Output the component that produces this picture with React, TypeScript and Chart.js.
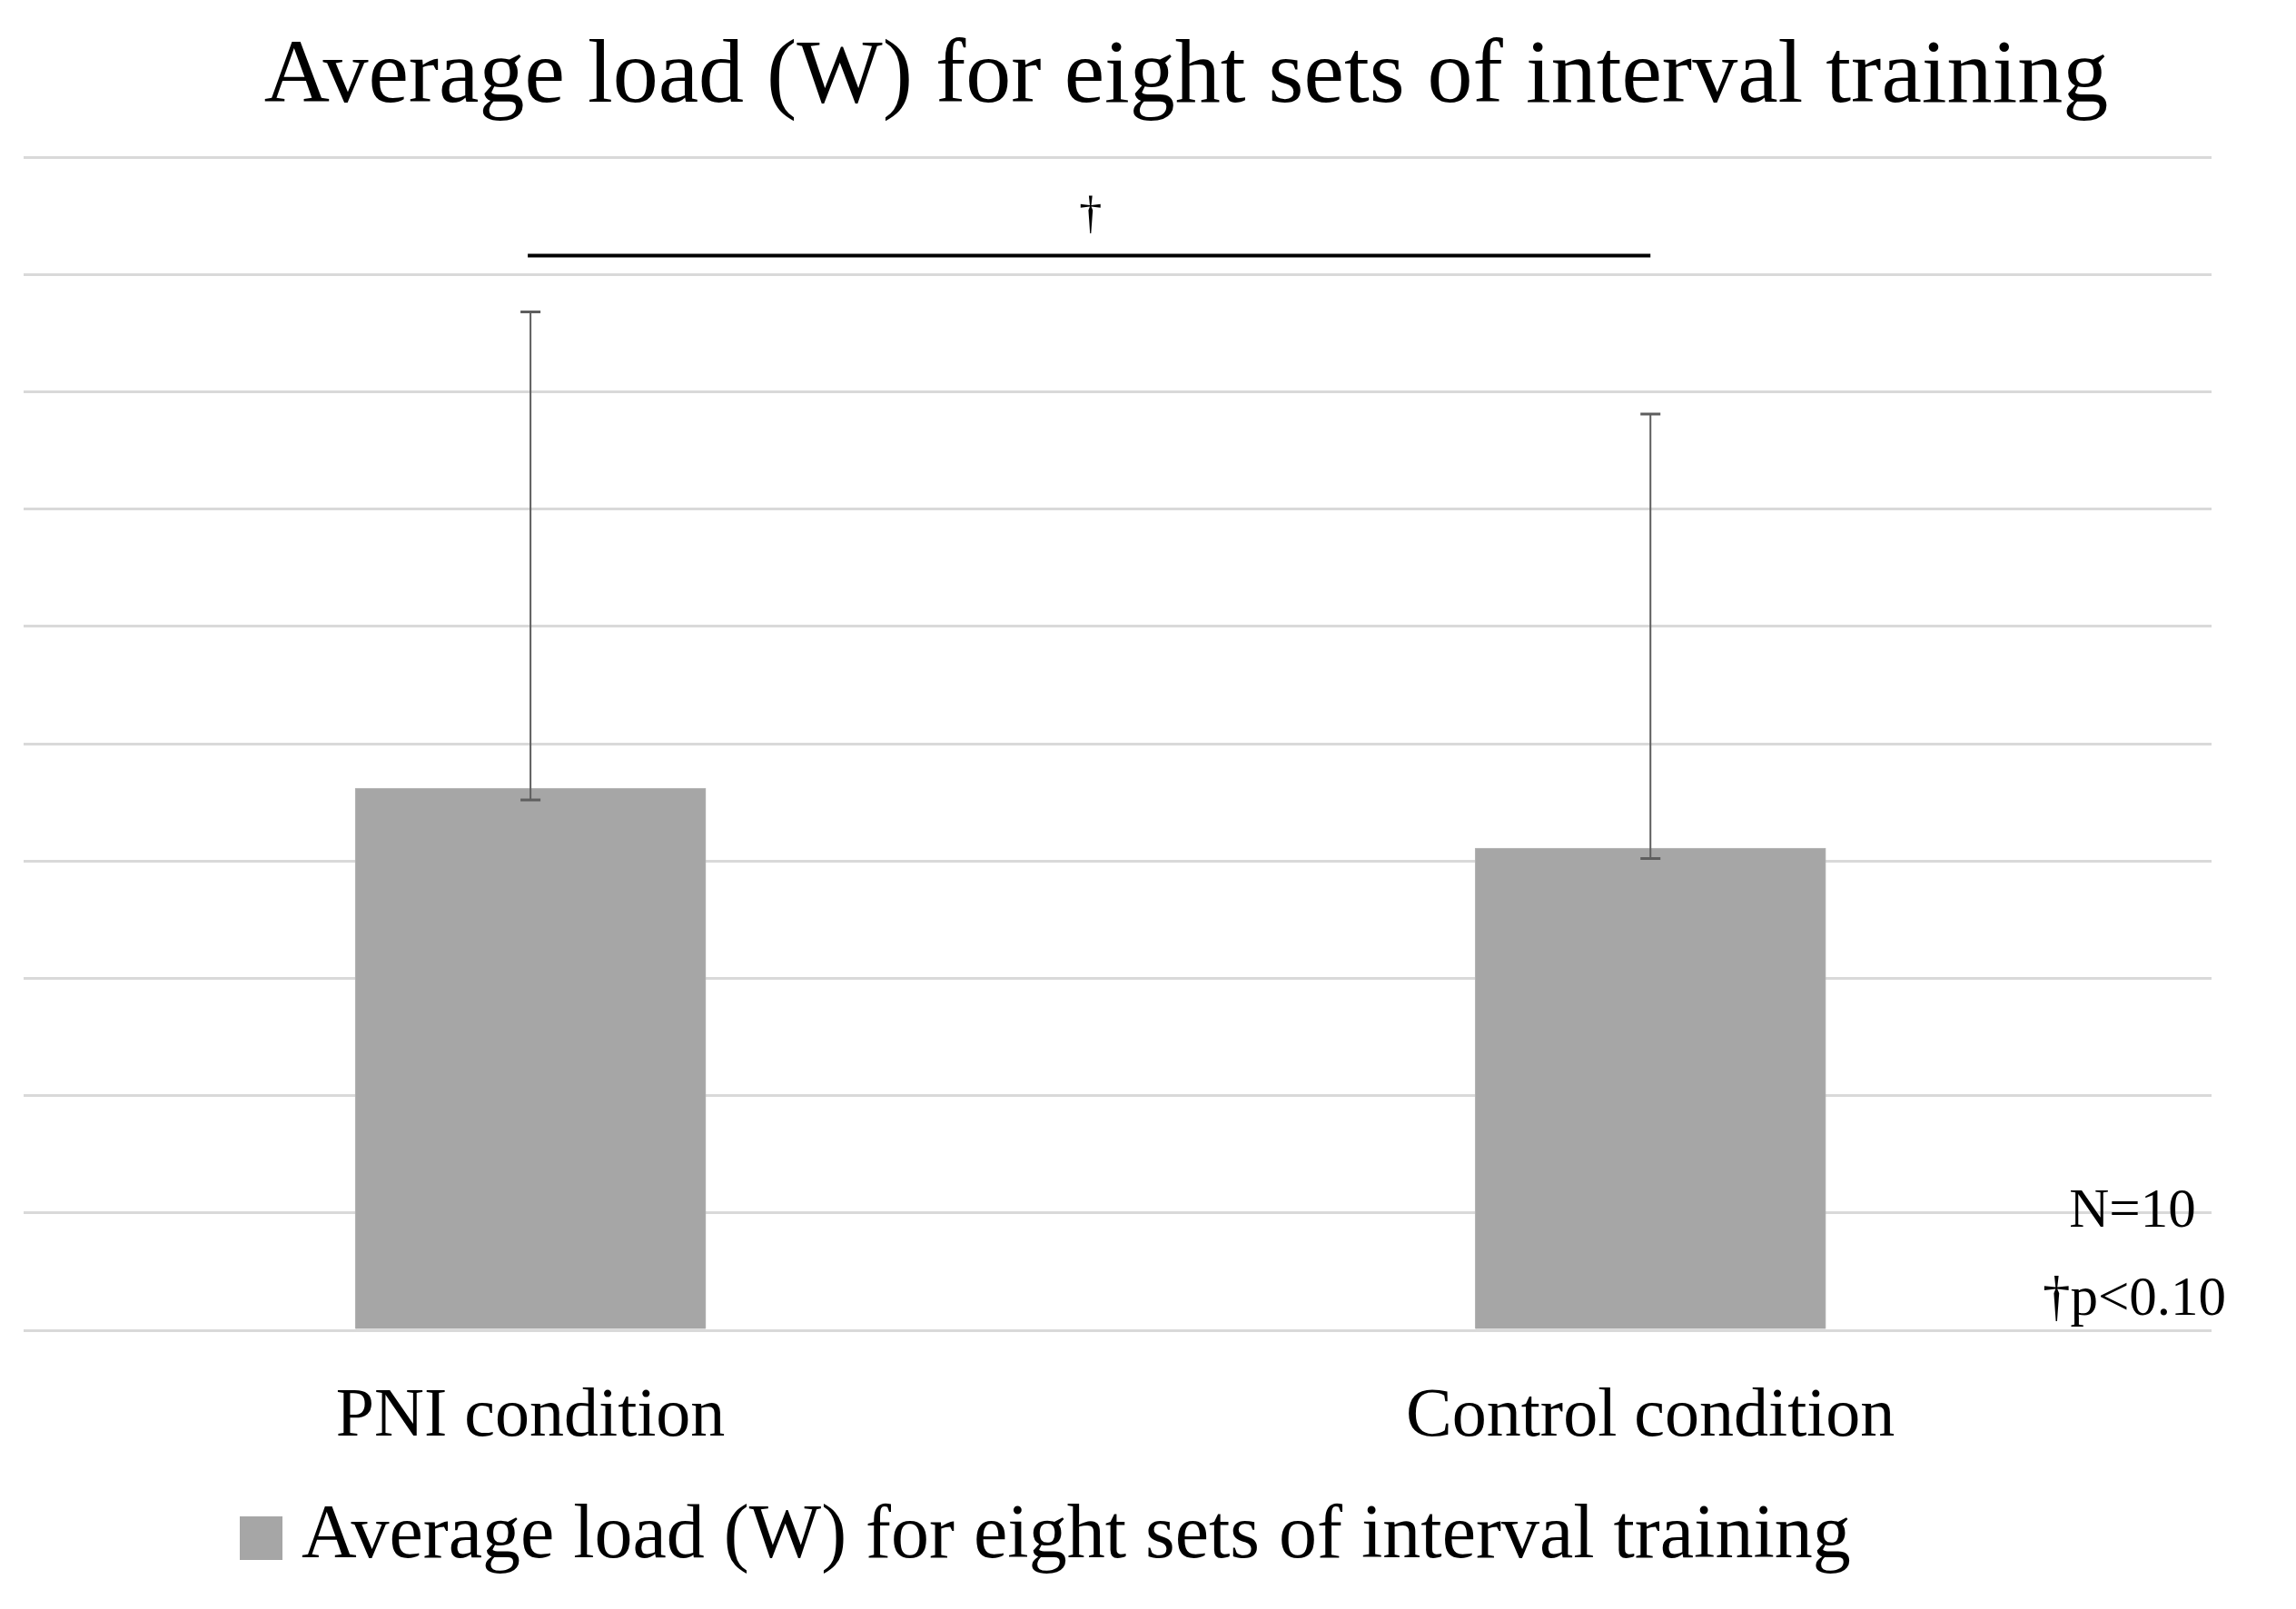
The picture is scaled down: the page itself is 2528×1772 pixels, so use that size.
import { useEffect, useRef } from 'react'
import { Chart, registerables } from 'chart.js'

Chart.register(...registerables)

// values, in gridline steps (axis has 10 unlabelled steps)
const categories = ['PNI condition', 'Control condition']
const barValues = [4.62, 4.11]
const errorLow = [4.52, 4.02]
const errorHigh = [8.68, 7.81]
const bracketLevel = 9.16
const seriesLabel = 'Average load (W) for eight sets of interval training'
const notes = ['N=10', '\u2020p<0.10']

const FONT = '"Liberation Serif", "Times New Roman", serif'
const BAR_COLOR = '#a6a6a6'

const annotations = {
  id: 'annotations',
  afterDatasetsDraw(chart: Chart) {
    const { ctx } = chart
    const x = chart.scales.x
    const y = chart.scales.y
    ctx.save()

    // error bars
    ctx.strokeStyle = '#5e5e5e'
    barValues.forEach((_, i) => {
      const px = x.getPixelForValue(i)
      const top = y.getPixelForValue(errorHigh[i])
      const bot = y.getPixelForValue(errorLow[i])
      ctx.lineWidth = 2
      ctx.beginPath()
      ctx.moveTo(px, top)
      ctx.lineTo(px, bot)
      ctx.stroke()
      ctx.lineWidth = 3
      ctx.beginPath()
      ctx.moveTo(px - 11, top)
      ctx.lineTo(px + 11, top)
      ctx.moveTo(px - 11, bot)
      ctx.lineTo(px + 11, bot)
      ctx.stroke()
    })

    // significance bracket
    const x0 = x.getPixelForValue(0)
    const x1 = x.getPixelForValue(1)
    const by = y.getPixelForValue(bracketLevel)
    ctx.strokeStyle = '#000'
    ctx.lineWidth = 4
    ctx.beginPath()
    ctx.moveTo(x0 - 3, by)
    ctx.lineTo(x1, by)
    ctx.stroke()
    ctx.fillStyle = '#000'
    ctx.font = `50px ${FONT}`
    ctx.textAlign = 'center'
    ctx.textBaseline = 'alphabetic'
    ctx.fillText('\u2020', (x0 + x1) / 2, by - 31)
    ctx.restore()
  },
  afterDraw(chart: Chart) {
    const { ctx } = chart
    ctx.save()
    ctx.fillStyle = '#000'
    ctx.textBaseline = 'alphabetic'

    // title
    ctx.font = `100px ${FONT}`
    ctx.textAlign = 'center'
    ctx.fillText(seriesLabel, 1306, 112)

    // notes
    ctx.font = `61px ${FONT}`
    ctx.fillText(notes[0], 2348, 1351)
    ctx.fillText(notes[1], 2350, 1448)

    // legend
    ctx.fillStyle = BAR_COLOR
    ctx.fillRect(264, 1670, 47, 48)
    ctx.fillStyle = '#000'
    ctx.font = `84px ${FONT}`
    ctx.textAlign = 'left'
    ctx.fillText(seriesLabel, 332, 1715)
    ctx.restore()
  },
}

export default function App() {
  const chartRef = useRef<HTMLCanvasElement>(null)
  const chartInstance = useRef<Chart | null>(null)

  useEffect(() => {
    if (!chartRef.current) return
    if (chartInstance.current) chartInstance.current.destroy()
    const ctx = chartRef.current.getContext('2d')
    if (!ctx) return

    chartInstance.current = new Chart(ctx, {
      type: 'bar',
      data: {
        datasets: [
          {
            label: seriesLabel,
            data: barValues.map((v, i) => ({ x: i, y: v })),
            backgroundColor: BAR_COLOR,
            borderColor: '#b4b4b4',
            borderWidth: 1,
            barThickness: 386,
          },
        ],
      },
      options: {
        animation: false,
        responsive: true,
        maintainAspectRatio: false,
        devicePixelRatio: 1,
        layout: { padding: { left: 26, right: 93, top: 173, bottom: 0 } },
        plugins: {
          legend: { display: false },
          title: { display: false },
          tooltip: { enabled: false },
        },
        scales: {
          x: {
            type: 'linear',
            offset: false,
            min: -0.4526,
            max: 1.501,
            grid: { display: false, drawTicks: false },
            border: { display: false },
            afterBuildTicks: (axis: any) => {
              axis.ticks = categories.map((_, i) => ({ value: i }))
            },
            afterFit: (axis: any) => {
              axis.height = 307
            },
            ticks: {
              autoSkip: false,
              maxRotation: 0,
              padding: 58,
              color: '#000',
              font: { family: FONT, size: 76, lineHeight: 1 },
              callback: (v: any) => categories[v as number] ?? '',
            },
          },
          y: {
            min: 0,
            max: 10,
            grid: { color: '#d9d9d9', lineWidth: 3, drawTicks: false },
            border: { display: false },
            ticks: { display: false, stepSize: 1 },
            afterFit: (axis: any) => {
              axis.width = 0
            },
          },
        },
      },
      plugins: [annotations],
    })

    return () => {
      if (chartInstance.current) {
        chartInstance.current.destroy()
        chartInstance.current = null
      }
    }
  }, [])

  return (
    <div style={{ position: 'absolute', left: 0, top: 0, width: 2528, height: 1772, background: '#fff' }}>
      <canvas ref={chartRef} />
    </div>
  )
}
